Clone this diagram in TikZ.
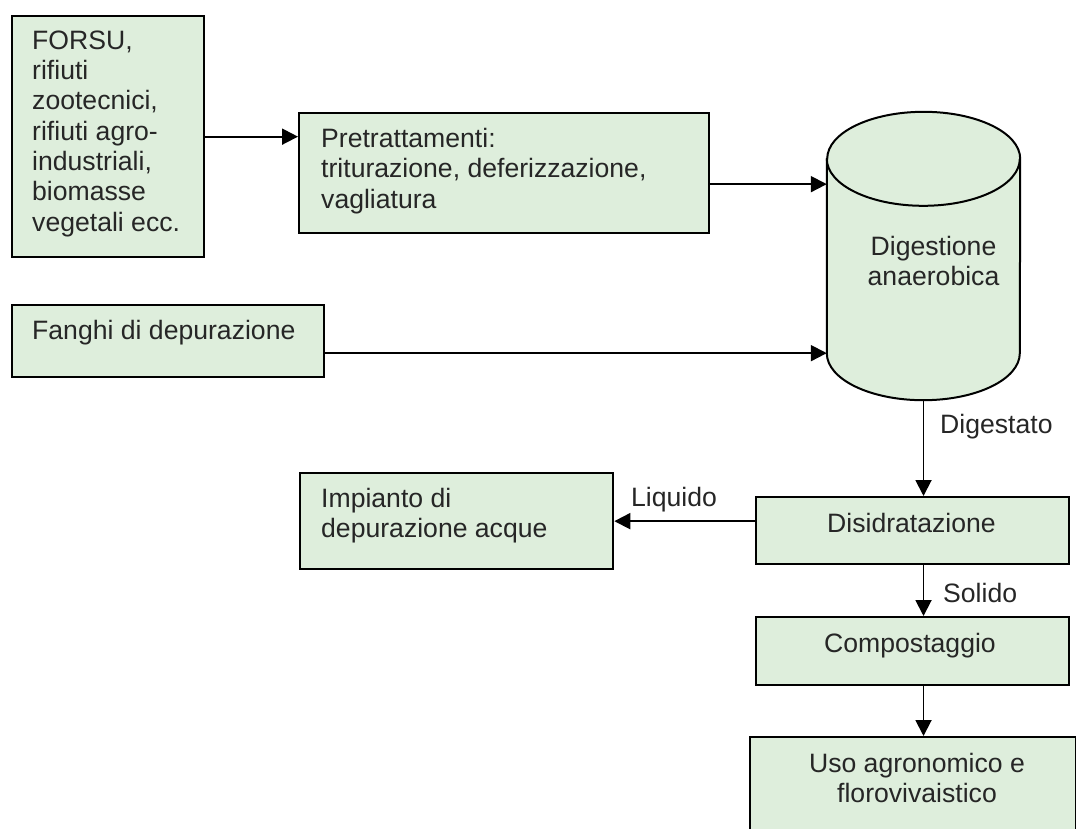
\documentclass[tikz,border=0pt]{standalone}
\usepackage{fontspec}
\setmainfont{Liberation Sans}
\usetikzlibrary{arrows.meta}
\definecolor{boxfill}{RGB}{222,238,220}
\definecolor{inktext}{RGB}{38,38,38}
\begin{document}
\begin{tikzpicture}[x=1pt,y=-1pt,
  procbox/.style={draw=black, line width=2.3pt, fill=boxfill, rectangle, inner sep=0pt, anchor=north west},
  anchorbox/.style={rectangle, inner sep=0pt},
  txt/.style={text=inktext, inner sep=0pt, font=\fontsize{26.6}{30.3}\selectfont},
  flow/.style={line width=1.9pt, -{Triangle[length=16pt,width=16pt]}},
  tank/.style={draw=black, line width=2pt, fill=boxfill},
]
\useasboundingbox (0,0) rectangle (1076,828);
\fill[white] (0,0) rectangle (1076,828);

% process boxes
\node[procbox, minimum width=192pt, minimum height=241pt] (forsu) at (11,15) {};
\node[procbox, minimum width=410pt, minimum height=120pt] (pre) at (298,112) {};
\node[procbox, minimum width=312pt, minimum height=72pt] (fanghi) at (11,304) {};
\node[procbox, minimum width=313pt, minimum height=96pt] (impianto) at (299,472) {};
\node[procbox, minimum width=313pt, minimum height=67pt] (disid) at (755,496) {};
\node[procbox, minimum width=313pt, minimum height=68pt] (compost) at (755,616) {};
\node[procbox, minimum width=326pt, minimum height=130pt] (uso) at (749,736) {};

% digester tank
\node[anchorbox, minimum width=193pt, minimum height=288pt] (dig) at (923.5,256) {};
\draw[tank] ([yshift=-47pt]dig.north west) -- ([yshift=47pt]dig.south west)
  arc[start angle=180, end angle=360, x radius=96.5pt, y radius=47pt]
  -- ([yshift=-47pt]dig.north east)
  arc[start angle=0, end angle=180, x radius=96.5pt, y radius=47pt] -- cycle;
\draw[line width=2pt] ([yshift=-47pt]dig.north west)
  arc[start angle=180, end angle=360, x radius=96.5pt, y radius=47pt];

% box texts
\node[txt, anchor=north west, align=left] (forsu-t) at (32,30.5)
  {FORSU,\\rifiuti\\zootecnici,\\rifiuti agro-\\industriali,\\biomasse\\vegetali ecc.};
\node[txt, anchor=north west, align=left] (pre-t) at (321,128)
  {Pretrattamenti:\\triturazione, deferizzazione,\\vagliatura};
\node[txt, anchor=north west, align=left] (fanghi-t) at (32,320) {Fanghi di depurazione};
\node[txt, anchor=north, align=center] (dig-t) at (933.5,236) {Digestione\\anaerobica};
\node[txt, anchor=north west, align=left] (impianto-t) at (321,488) {Impianto di\\depurazione acque};
\node[txt, anchor=north] (disid-t) at (911.5,513) {Disidratazione};
\node[txt, anchor=north] (compost-t) at (910,633) {Compostaggio};
\node[txt, anchor=north, align=center] (uso-t) at (917,753) {Uso agronomico e\\florovivaistico};

% connectors
\draw[flow] (forsu.east) -- (forsu.east -| pre.west);
\draw[flow] ([yshift=-11pt]pre.east) -- ([yshift=-11pt]pre.east -| dig.west);
\draw[flow] ([yshift=-12pt]fanghi.east) -- ([yshift=-12pt]fanghi.east -| dig.west);
\draw[flow] (dig.south) -- (dig.south |- disid.north);
\draw[flow] ([yshift=9.5pt]disid.west) -- ([yshift=9.5pt]disid.west -| impianto.east);
\draw[flow] (disid.south -| dig.south) -- (compost.north -| dig.south);
\draw[flow] (compost.south -| dig.south) -- (uso.north -| dig.south);

% connector labels
\node[txt, anchor=north west] (digestato) at (940,414) {Digestato};
\node[txt, anchor=north west] (liquido) at (631,487) {Liquido};
\node[txt, anchor=north west] (solido) at (943,583) {Solido};
\end{tikzpicture}
\end{document}
